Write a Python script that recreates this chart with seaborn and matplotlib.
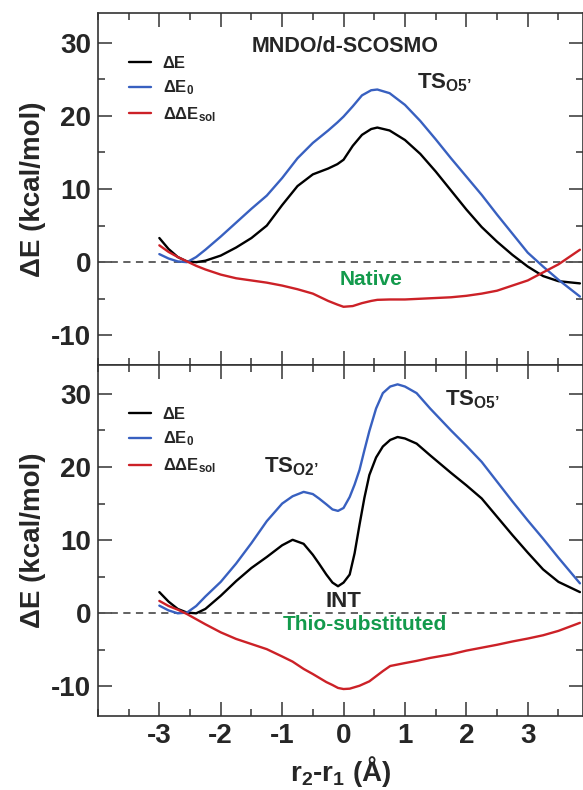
import matplotlib
matplotlib.use("Agg")
import matplotlib.pyplot as plt
from matplotlib.ticker import MultipleLocator, FixedLocator
import seaborn as sns

# --- data (r2-r1 in Angstrom, energies in kcal/mol) ---
# top panel: native, MNDO/d-SCOSMO
nat_x = [-3.0, -2.85, -2.7, -2.55, -2.4, -2.25, -2.0, -1.75, -1.5, -1.25, -1.0, -0.75,
         -0.5, -0.25, -0.1, 0.0, 0.15, 0.3, 0.45, 0.55, 0.75, 1.0, 1.25, 1.5, 1.75,
         2.0, 2.25, 2.5, 2.75, 3.0, 3.25, 3.5, 3.85]
nat_dE = [3.3, 1.8, 0.7, 0.1, 0.0, 0.2, 0.9, 2.0, 3.3, 5.0, 7.8, 10.4,
          12.0, 12.8, 13.4, 14.0, 15.9, 17.4, 18.2, 18.4, 18.0, 16.7, 14.8, 12.4, 9.8,
          7.2, 4.8, 2.8, 1.0, -0.6, -1.9, -2.6, -2.9]
nat_dE0 = [1.1, 0.5, 0.1, 0.0, 0.7, 1.7, 3.5, 5.4, 7.3, 9.1, 11.5, 14.2,
           16.3, 18.0, 19.1, 19.9, 21.3, 22.8, 23.5, 23.6, 23.1, 21.5, 19.3, 16.8, 14.2,
           11.7, 9.2, 6.5, 3.9, 1.3, -0.6, -2.4, -4.7]
nat_dsol = [2.3, 1.4, 0.7, 0.1, -0.5, -1.0, -1.7, -2.2, -2.5, -2.8, -3.2, -3.7,
            -4.3, -5.3, -5.8, -6.1, -6.0, -5.6, -5.3, -5.15, -5.1, -5.1, -5.0, -4.9, -4.8,
            -4.6, -4.3, -3.9, -3.2, -2.5, -1.4, -0.3, 1.7]

# bottom panel: thio-substituted
thio_x = [-3.0, -2.85, -2.7, -2.55, -2.4, -2.25, -2.0, -1.75, -1.5, -1.25, -1.0, -0.83,
          -0.65, -0.5, -0.4, -0.28, -0.18, -0.09, 0.0, 0.1, 0.18, 0.26, 0.34, 0.42,
          0.53, 0.64, 0.76, 0.88, 1.0, 1.19, 1.41, 1.75, 2.0, 2.25, 2.5, 2.75, 3.0,
          3.25, 3.5, 3.85]
thio_dE = [2.9, 1.6, 0.6, 0.1, 0.0, 0.6, 2.4, 4.4, 6.2, 7.7, 9.3, 10.05,
           9.5, 8.0, 6.8, 5.3, 4.2, 3.7, 4.2, 5.3, 8.2, 12.1, 15.8, 18.9,
           21.3, 22.8, 23.7, 24.1, 23.9, 23.2, 21.6, 19.2, 17.5, 15.7, 13.2, 10.7, 8.3,
           6.0, 4.3, 2.9]
thio_dE0 = [1.05, 0.4, 0.0, 0.1, 1.0, 2.3, 4.3, 6.8, 9.6, 12.6, 15.0, 16.0,
            16.6, 16.3, 15.7, 14.9, 14.2, 14.0, 14.4, 15.9, 17.6, 19.6, 22.3, 24.9,
            28.0, 30.1, 31.0, 31.3, 31.0, 30.1, 28.0, 25.0, 22.9, 20.7, 18.0, 15.3, 12.7,
            10.2, 7.6, 4.1]
thio_dsol = [1.7, 1.0, 0.5, -0.1, -0.8, -1.5, -2.6, -3.5, -4.2, -4.9, -5.9, -6.6,
             -7.6, -8.3, -8.8, -9.4, -9.8, -10.2, -10.35, -10.3, -10.1, -9.9, -9.6, -9.3,
             -8.6, -7.9, -7.2, -7.0, -6.8, -6.5, -6.1, -5.6, -5.1, -4.7, -4.3, -3.85, -3.45,
             -3.0, -2.4, -1.3]

labels = ["ΔE", r"ΔE$_{0}$", r"ΔΔE$_{sol}$"]
colors = ["black", "#3860c0", "#cc2127"]
green = "#139a4c"

sns.set_theme(style="ticks")
plt.rcParams["font.family"] = ["Liberation Sans", "DejaVu Sans"]
plt.rcParams["font.weight"] = "bold"
plt.rcParams["axes.unicode_minus"] = False
plt.rcParams["mathtext.fontset"] = "custom"
plt.rcParams["mathtext.rm"] = "Liberation Sans:bold"
plt.rcParams["mathtext.bf"] = "Liberation Sans:bold"
plt.rcParams["mathtext.default"] = "rm"

fig, axes = plt.subplots(2, 1, figsize=(5.83, 7.90), dpi=100, sharex=True)
fig.subplots_adjust(left=0.168, right=1.0, top=0.983, bottom=0.094, hspace=0)

panels = [(axes[0], nat_x, [nat_dE, nat_dE0, nat_dsol]),
          (axes[1], thio_x, [thio_dE, thio_dE0, thio_dsol])]

for ax, xs, ys in panels:
    ax.axhline(0, color="#555555", lw=1.3, ls=(0, (4, 3)), zorder=1)
    for y, lab, c in zip(ys, labels, colors):
        sns.lineplot(x=xs, y=y, color=c, lw=1.7, label=lab, ax=ax, sort=False,
                     solid_joinstyle="round")
    ax.set_xlim(-4.0, 3.9)
    ax.set_ylim(-14, 34)
    ax.yaxis.set_major_locator(FixedLocator([-10, 0, 10, 20, 30]))
    ax.yaxis.set_minor_locator(MultipleLocator(5))
    ax.xaxis.set_major_locator(FixedLocator([-3, -2, -1, 0, 1, 2, 3]))
    ax.xaxis.set_minor_locator(MultipleLocator(0.5))
    ax.tick_params(which="both", direction="in", top=True, right=True,
                   color="#333333", width=1.1)
    ax.tick_params(which="major", length=10, labelsize=20, pad=5)
    ax.tick_params(which="minor", length=5)
    for lbl in ax.get_xticklabels() + ax.get_yticklabels():
        lbl.set_fontweight("bold")
    for s in ax.spines.values():
        s.set_color("#333333")
        s.set_linewidth(1.2)
    ax.set_ylabel("ΔE (kcal/mol)", fontsize=20, fontweight="bold")
    ax.yaxis.set_label_coords(-0.108, 0.5)
    ax.legend(loc="upper left", bbox_to_anchor=(0.065, 0.88), frameon=False,
              handlelength=1.3, handletextpad=0.7, labelspacing=0.48,
              borderpad=0, borderaxespad=0, prop={"weight": "bold", "size": 12})

axes[0].tick_params(labelbottom=False)
axes[1].set_xlabel(r"r$_{2}$-r$_{1}$ (Å)", fontsize=20, fontweight="bold", labelpad=4)

# annotations
top, bot = axes
top.text(0.03, 29.5, "MNDO/d-SCOSMO", ha="center", va="center", fontsize=15.5, fontweight="bold")
top.text(1.19, 24.5, r"TS$_{O5’}$", ha="left", va="center", fontsize=16, fontweight="bold")
top.text(0.45, -2.4, "Native", ha="center", va="center", fontsize=15, fontweight="bold", color=green)
bot.text(-1.29, 20.0, r"TS$_{O2’}$", ha="left", va="center", fontsize=16, fontweight="bold")
bot.text(1.65, 29.2, r"TS$_{O5’}$", ha="left", va="center", fontsize=16, fontweight="bold")
bot.text(0.0, 1.6, "INT", ha="center", va="center", fontsize=16, fontweight="bold")
bot.text(0.34, -1.5, "Thio-substituted", ha="center", va="center", fontsize=15, fontweight="bold", color=green)

fig.savefig("out.png", dpi=100)
